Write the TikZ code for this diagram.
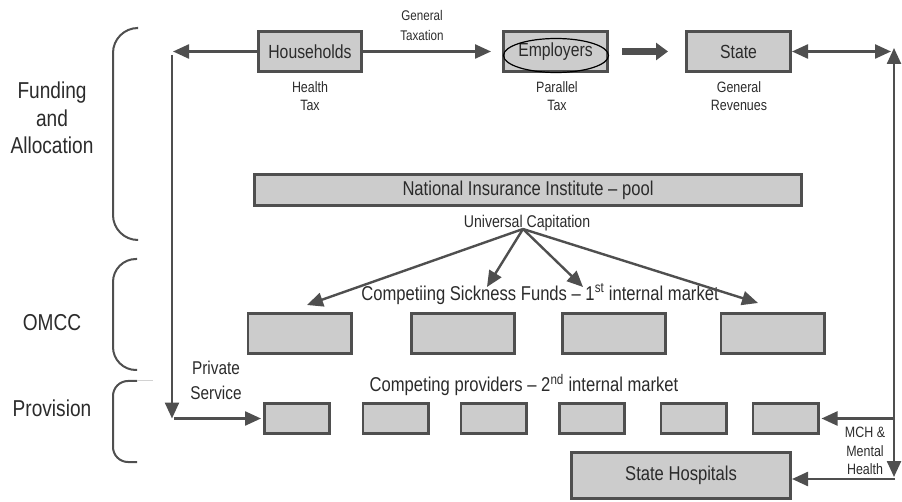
\documentclass[tikz,border=0pt]{standalone}
\usepackage{fontspec}
\setmainfont{Liberation Sans}[FakeStretch=0.83]
\usetikzlibrary{arrows.meta,shapes.geometric}
\definecolor{boxfill}{HTML}{CCCCCC}
\definecolor{edge}{HTML}{4F4F4F}
\definecolor{ink}{HTML}{2B2B2B}
\newcommand\fsz[2]{\fontsize{#1}{#2}\selectfont}
\begin{document}
\begin{tikzpicture}[x=1pt,y=-1pt,
  graybox/.style={draw=edge, fill=boxfill, line width=2.6pt, inner sep=0pt,
    text=ink, font=\fsz{19}{22}},
  label/.style={inner sep=0pt, text=ink, align=center},
  conn/.style={draw=edge, line width=2.4pt, -{Triangle[length=16pt,width=14pt]}},
  twoway/.style={draw=edge, line width=2.4pt,
    {Triangle[length=16pt,width=14pt]}-{Triangle[length=16pt,width=14pt]}},
  bigarrow/.style={draw=edge, line width=7pt, -{Triangle[length=12pt,width=17pt]}},
  bracket/.style={draw=edge, line width=2pt},
]
\useasboundingbox (0,0) rectangle (902,502);

% funding sources
\node[graybox, minimum width=103.4pt, minimum height=40.4pt] (hh)  at (310,51.5)   {Households};
\node[graybox, minimum width=104.4pt, minimum height=40.4pt] (emp) at (555.5,51.5) {Employers};
\node[graybox, minimum width=104.4pt, minimum height=40.4pt] (st)  at (738.5,51.5) {State};
\draw[black, line width=1.2pt] (556,55.5) ellipse [x radius=52.5pt, y radius=17pt];

\node[label, font=\fsz{14}{20}]   (gtax) at (422,26) {General\\Taxation};
\node[label, font=\fsz{15}{18}]   (htax) at (310,96) {Health\\Tax};
\node[label, font=\fsz{15}{18}]   (ptax) at (557,96) {Parallel\\Tax};
\node[label, font=\fsz{15}{18}]   (grev) at (739,96) {General\\Revenues};

% pool
\node[graybox, minimum width=547.4pt, minimum height=31.4pt, font=\fsz{20}{24}] (nii) at (528,190)
  {National Insurance Institute -- pool};
\node[label, font=\fsz{17}{20}] (ucap) at (527,223) {Universal Capitation};

% sickness funds
\node[label, font=\fsz{20}{24}] (sfl) at (540,294)
  {Competiing Sickness Funds -- 1\textsuperscript{st} internal market};
\foreach \i/\cx in {1/299.5,2/463,3/614,4/772.5}
  \node[graybox, minimum width=103.4pt, minimum height=40.4pt] (sf\i) at (\cx,333.5) {};

% providers
\node[label, font=\fsz{20}{24}] (pvl) at (524,385)
  {Competing providers -- 2\textsuperscript{nd} internal market};
\foreach \i/\cx in {1/297,2/395.5,3/493.5,4/592,5/693.5,6/785.5}
  \node[graybox, minimum width=65.4pt, minimum height=30.4pt] (pv\i) at (\cx,418.5) {};

\node[graybox, minimum width=219.4pt, minimum height=46.4pt, font=\fsz{20}{24}] (hosp)
  at (681,475.5) {State Hospitals};

\node[label, font=\fsz{18.5}{25}] (priv) at (216,380) {Private\\Service};
\node[label, font=\fsz{15}{18.5}] (mch) at (865,451) {MCH \&\\Mental\\Health};

% section brackets and titles
\draw[bracket, rounded corners=25pt] (137,28) -- (113,28) -- (113,240) -- (137,240);
\draw[bracket, rounded corners=23pt] (137,259) -- (113,259) -- (113,370) -- (137,370);
\draw[bracket, rounded corners=15pt] (137,381) -- (113,381) -- (113,462) -- (137,462);
\draw[gray!35, line width=1pt] (137,381) -- (153,381);
\node[label, font=\fsz{23}{27.5}] (fa)   at (52,118) {Funding\\and\\Allocation};
\node[label, font=\fsz{23}{27.5}] (omcc) at (52,323) {OMCC};
\node[label, font=\fsz{23}{27.5}] (prov) at (52,408) {Provision};

% coordinates for free connector ends
\coordinate (lt)   at (173,51.5);
\coordinate (lv1)  at (172,55);
\coordinate (lv2)  at (172,418.5);
\coordinate (lh)   at (174,418.5);
\coordinate (rt)   at (891,51.5);
\coordinate (rtop) at (894,48);
\coordinate (rbot) at (894,477);
\coordinate (rp)   at (895,418.5);
\coordinate (rh)   at (895,479);
\coordinate (cap)  at (523,229);
\coordinate (t1)   at (307,305);
\coordinate (t2)   at (487,287);
\coordinate (t3)   at (583,287);
\coordinate (t4)   at (758,303);

% connectors
\draw[conn] (hh.west) -- (lt);
\draw[conn, shorten >=11pt] (hh.east) -- (emp.west);
\draw[bigarrow, shorten <=13pt, shorten >=17pt] (emp.east) -- (st.west);
\draw[twoway] (st.east) -- (rt);
\draw[twoway] (rbot) -- (rtop);
\draw[conn, shorten >=2pt] (rp) -- (pv6.east);
\draw[conn] (rh) -- (hosp.east |- rh);
\draw[conn] (lv1) -- (lv2);
\draw[conn, shorten >=2pt] (lh) -- (pv1.west);
\foreach \t in {t1,t2,t3,t4}
  \draw[conn] (cap) -- (\t);
\end{tikzpicture}
\end{document}
